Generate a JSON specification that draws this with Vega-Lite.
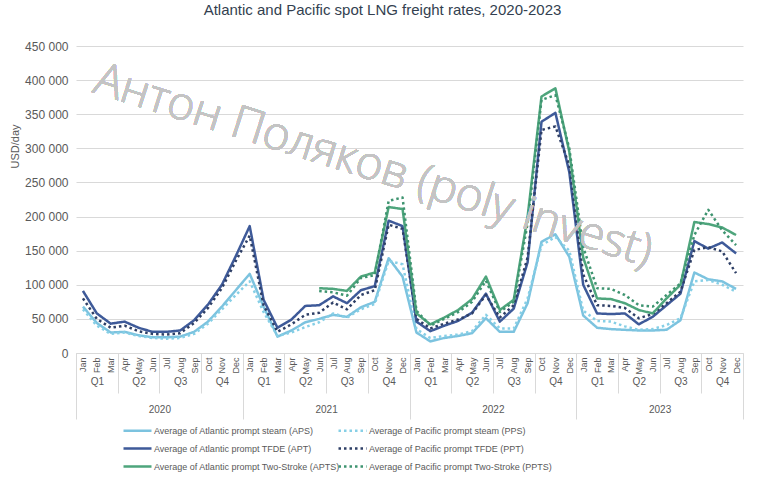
{
  "$schema": "https://vega.github.io/schema/vega-lite/v6.json",
  "autosize": "none",
  "width": 667,
  "height": 307,
  "padding": {"left": 76, "top": 46, "right": 15, "bottom": 124},
  "background": "white",
  "title": {
    "text": "Atlantic and Pacific spot LNG freight rates, 2020-2023",
    "fontSize": 15,
    "font": "Liberation Sans",
    "fontWeight": "normal",
    "color": "#333f50",
    "anchor": "middle",
    "dx": -27,
    "offset": 22
  },
  "config": {
    "view": {"stroke": null},
    "font": "Liberation Sans",
    "locale": {"number": {"decimal": ",", "thousands": " ", "grouping": [3], "currency": ["", ""]}},
    "axis": {"labelFont": "Liberation Sans", "labelColor": "#595959", "titleFont": "Liberation Sans"}
  },
  "data": {
    "values": [
      {"i": 0, "month": "2020-01", "APS": 68000, "PPS": 64000, "APT": 91000, "PPT": 80000, "APTS": null, "PPTS": null},
      {"i": 1, "month": "2020-02", "APS": 44000, "PPS": 40000, "APT": 58000, "PPT": 50000, "APTS": null, "PPTS": null},
      {"i": 2, "month": "2020-03", "APS": 30000, "PPS": 28000, "APT": 43000, "PPT": 37000, "APTS": null, "PPTS": null},
      {"i": 3, "month": "2020-04", "APS": 31000, "PPS": 30000, "APT": 46000, "PPT": 40000, "APTS": null, "PPTS": null},
      {"i": 4, "month": "2020-05", "APS": 26000, "PPS": 25000, "APT": 37000, "PPT": 32000, "APTS": null, "PPTS": null},
      {"i": 5, "month": "2020-06", "APS": 23000, "PPS": 22000, "APT": 31000, "PPT": 28000, "APTS": null, "PPTS": null},
      {"i": 6, "month": "2020-07", "APS": 23000, "PPS": 21000, "APT": 31000, "PPT": 27000, "APTS": null, "PPTS": null},
      {"i": 7, "month": "2020-08", "APS": 24000, "PPS": 22000, "APT": 33000, "PPT": 29000, "APTS": null, "PPTS": null},
      {"i": 8, "month": "2020-09", "APS": 31000, "PPS": 28000, "APT": 48000, "PPT": 44000, "APTS": null, "PPTS": null},
      {"i": 9, "month": "2020-10", "APS": 46000, "PPS": 43000, "APT": 71000, "PPT": 66000, "APTS": null, "PPTS": null},
      {"i": 10, "month": "2020-11", "APS": 68000, "PPS": 64000, "APT": 100000, "PPT": 95000, "APTS": null, "PPTS": null},
      {"i": 11, "month": "2020-12", "APS": 92000, "PPS": 85000, "APT": 142000, "PPT": 135000, "APTS": null, "PPTS": null},
      {"i": 12, "month": "2021-01", "APS": 116000, "PPS": 105000, "APT": 186000, "PPT": 172000, "APTS": null, "PPTS": null},
      {"i": 13, "month": "2021-02", "APS": 68000, "PPS": 60000, "APT": 78000, "PPT": 70000, "APTS": null, "PPTS": null},
      {"i": 14, "month": "2021-03", "APS": 24000, "PPS": 25000, "APT": 37000, "PPT": 31000, "APTS": null, "PPTS": null},
      {"i": 15, "month": "2021-04", "APS": 33000, "PPS": 30000, "APT": 49000, "PPT": 42000, "APTS": null, "PPTS": null},
      {"i": 16, "month": "2021-05", "APS": 45000, "PPS": 38000, "APT": 69000, "PPT": 56000, "APTS": null, "PPTS": null},
      {"i": 17, "month": "2021-06", "APS": 50000, "PPS": 45000, "APT": 70000, "PPT": 59000, "APTS": 95000, "PPTS": 91000},
      {"i": 18, "month": "2021-07", "APS": 56000, "PPS": 58000, "APT": 83000, "PPT": 74000, "APTS": 94000, "PPTS": 89000},
      {"i": 19, "month": "2021-08", "APS": 53000, "PPS": 52000, "APT": 73000, "PPT": 64000, "APTS": 91000, "PPTS": 84000},
      {"i": 20, "month": "2021-09", "APS": 67000, "PPS": 64000, "APT": 92000, "PPT": 85000, "APTS": 112000, "PPTS": 110000},
      {"i": 21, "month": "2021-10", "APS": 75000, "PPS": 72000, "APT": 98000, "PPT": 92000, "APTS": 118000, "PPTS": 114000},
      {"i": 22, "month": "2021-11", "APS": 139000, "PPS": 135000, "APT": 194000, "PPT": 188000, "APTS": 214000, "PPTS": 223000},
      {"i": 23, "month": "2021-12", "APS": 112000, "PPS": 130000, "APT": 186000, "PPT": 182000, "APTS": 211000, "PPTS": 228000},
      {"i": 24, "month": "2022-01", "APS": 30000, "PPS": 35000, "APT": 46000, "PPT": 50000, "APTS": 58000, "PPTS": 62000},
      {"i": 25, "month": "2022-02", "APS": 17000, "PPS": 22000, "APT": 32000, "PPT": 36000, "APTS": 42000, "PPTS": 40000},
      {"i": 26, "month": "2022-03", "APS": 22000, "PPS": 25000, "APT": 40000, "PPT": 43000, "APTS": 52000, "PPTS": 50000},
      {"i": 27, "month": "2022-04", "APS": 25000, "PPS": 27000, "APT": 47000, "PPT": 49000, "APTS": 63000, "PPTS": 60000},
      {"i": 28, "month": "2022-05", "APS": 29000, "PPS": 32000, "APT": 59000, "PPT": 58000, "APTS": 79000, "PPTS": 75000},
      {"i": 29, "month": "2022-06", "APS": 51000, "PPS": 56000, "APT": 87000, "PPT": 85000, "APTS": 112000, "PPTS": 106000},
      {"i": 30, "month": "2022-07", "APS": 31000, "PPS": 36000, "APT": 46000, "PPT": 52000, "APTS": 63000, "PPTS": 60000},
      {"i": 31, "month": "2022-08", "APS": 31000, "PPS": 36000, "APT": 65000, "PPT": 70000, "APTS": 78000, "PPTS": 75000},
      {"i": 32, "month": "2022-09", "APS": 73000, "PPS": 80000, "APT": 133000, "PPT": 140000, "APTS": 200000, "PPTS": 190000},
      {"i": 33, "month": "2022-10", "APS": 163000, "PPS": 158000, "APT": 339000, "PPT": 327000, "APTS": 376000, "PPTS": 371000},
      {"i": 34, "month": "2022-11", "APS": 174000, "PPS": 170000, "APT": 352000, "PPT": 332000, "APTS": 388000, "PPTS": 378000},
      {"i": 35, "month": "2022-12", "APS": 141000, "PPS": 150000, "APT": 265000, "PPT": 275000, "APTS": 295000, "PPTS": 300000},
      {"i": 36, "month": "2023-01", "APS": 55000, "PPS": 62000, "APT": 100000, "PPT": 115000, "APTS": 140000, "PPTS": 155000},
      {"i": 37, "month": "2023-02", "APS": 37000, "PPS": 47000, "APT": 58000, "PPT": 70000, "APTS": 80000, "PPTS": 95000},
      {"i": 38, "month": "2023-03", "APS": 35000, "PPS": 46000, "APT": 57000, "PPT": 69000, "APTS": 79000, "PPTS": 94000},
      {"i": 39, "month": "2023-04", "APS": 34000, "PPS": 39000, "APT": 58000, "PPT": 66000, "APTS": 73000, "PPTS": 85000},
      {"i": 40, "month": "2023-05", "APS": 33000, "PPS": 34000, "APT": 42000, "PPT": 51000, "APTS": 63000, "PPTS": 70000},
      {"i": 41, "month": "2023-06", "APS": 33000, "PPS": 35000, "APT": 53000, "PPT": 57000, "APTS": 58000, "PPTS": 68000},
      {"i": 42, "month": "2023-07", "APS": 34000, "PPS": 41000, "APT": 70000, "PPT": 73000, "APTS": 80000, "PPTS": 85000},
      {"i": 43, "month": "2023-08", "APS": 48000, "PPS": 51000, "APT": 87000, "PPT": 90000, "APTS": 100000, "PPTS": 102000},
      {"i": 44, "month": "2023-09", "APS": 118000, "PPS": 105000, "APT": 164000, "PPT": 151000, "APTS": 192000, "PPTS": 173000},
      {"i": 45, "month": "2023-10", "APS": 108000, "PPS": 107000, "APT": 153000, "PPT": 155000, "APTS": 189000, "PPTS": 210000},
      {"i": 46, "month": "2023-11", "APS": 105000, "PPS": 100000, "APT": 162000, "PPT": 149000, "APTS": 184000, "PPTS": 180000},
      {"i": 47, "month": "2023-12", "APS": 94000, "PPS": 90000, "APT": 146000, "PPT": 117000, "APTS": 173000, "PPTS": 158000}
    ]
  },
  "resolve": {"axis": {"x": "independent", "y": "independent"}},
  "layer": [
    {
      "transform": [
        {"fold": ["APS", "PPS", "APT", "PPT", "APTS", "PPTS"], "as": ["series", "value"]},
        {"filter": "datum.value != null"}
      ],
      "mark": {"type": "line", "strokeWidth": 2.5, "strokeJoin": "round"},
      "encoding": {
        "x": {
          "field": "i", "type": "quantitative",
          "scale": {"domain": [-0.5, 47.5], "nice": false, "zero": false},
          "axis": {
            "orient": "bottom",
            "values": [0,1,2,3,4,5,6,7,8,9,10,11,12,13,14,15,16,17,18,19,20,21,22,23,24,25,26,27,28,29,30,31,32,33,34,35,36,37,38,39,40,41,42,43,44,45,46,47],
            "labelExpr": "['Jan','Feb','Mar','Apr','May','Jun','Jul','Aug','Sep','Oct','Nov','Dec'][datum.value % 12]",
            "labelAngle": 270, "labelFontSize": 9, "labelPadding": 4,
            "labelOverlap": false, "labelFlush": false, "labelBound": false,
            "ticks": false, "grid": false, "domain": true, "domainColor": "#d9d9d9", "title": null
          }
        },
        "y": {
          "field": "value", "type": "quantitative",
          "scale": {"domain": [0, 450000], "nice": false},
          "axis": {
            "orient": "left",
            "values": [0, 50000, 100000, 150000, 200000, 250000, 300000, 350000, 400000, 450000],
            "format": ",d", "labelFontSize": 12, "labelPadding": 8,
            "grid": true, "gridColor": "#d9d9d9", "domain": false, "ticks": false,
            "title": "USD/day", "titleFontSize": 11, "titleFontWeight": "normal", "titleColor": "#595959",
            "titleX": -56, "titleY": 100, "titleAlign": "center"
          }
        },
        "color": {
          "field": "series", "type": "nominal",
          "scale": {"domain": ["APS", "APT", "APTS", "PPS", "PPT", "PPTS"], "range": ["#7cc3df", "#3e5a99", "#4ea57c", "#86cfe6", "#2e3f66", "#3e9470"]},
          "legend": {
            "orient": "none", "legendX": 53, "legendY": 376, "columns": 2, "columnPadding": -10, "rowPadding": 4,
            "title": null, "symbolType": "M-2,0H2", "symbolSize": 196, "symbolStrokeWidth": 2.5,
            "labelFontSize": 9, "labelColor": "#595959", "labelLimit": 0, "labelOffset": 8,
            "labelExpr": "datum.label == 'APS' ? 'Average of  Atlantic prompt steam (APS)' : datum.label == 'PPS' ? 'Average of  Pacific prompt steam (PPS)' : datum.label == 'APT' ? 'Average of  Atlantic prompt TFDE (APT)' : datum.label == 'PPT' ? 'Average of  Pacific prompt TFDE (PPT)' : datum.label == 'APTS' ? 'Average of  Atlantic prompt Two-Stroke (APTS)' : 'Average of  Pacific prompt Two-Stroke (PPTS)'"
          }
        },
        "strokeDash": {
          "field": "series", "type": "nominal",
          "scale": {"domain": ["APS", "APT", "APTS", "PPS", "PPT", "PPTS"], "range": [[1, 0], [1, 0], [1, 0], [2.5, 3], [2.5, 3], [2.5, 3]]},
          "legend": {
            "orient": "none", "legendX": 53, "legendY": 376, "columns": 2, "columnPadding": -10, "rowPadding": 4,
            "title": null, "symbolType": "M-2,0H2", "symbolSize": 196, "symbolStrokeWidth": 2.5,
            "labelFontSize": 9, "labelColor": "#595959", "labelLimit": 0, "labelOffset": 8,
            "labelExpr": "datum.label == 'APS' ? 'Average of  Atlantic prompt steam (APS)' : datum.label == 'PPS' ? 'Average of  Pacific prompt steam (PPS)' : datum.label == 'APT' ? 'Average of  Atlantic prompt TFDE (APT)' : datum.label == 'PPT' ? 'Average of  Pacific prompt TFDE (PPT)' : datum.label == 'APTS' ? 'Average of  Atlantic prompt Two-Stroke (APTS)' : 'Average of  Pacific prompt Two-Stroke (PPTS)'"
          }
        }
      }
    },
    {
      "mark": {"type": "text", "text": "Антон Поляков (poly invest)", "angle": 17.5, "fontSize": 46, "font": "Open Sans", "fontWeight": 300, "fill": "#c4c4c4", "stroke": null, "opacity": 0.42, "align": "center", "baseline": "middle"},
      "encoding": {
        "x": {"datum": 20.9, "type": "quantitative", "axis": null},
        "y": {"datum": 274000, "type": "quantitative", "axis": null}
      }
    },
    {
      "mark": {"type": "point", "opacity": 0},
      "encoding": {
        "x": {
          "field": "i", "type": "quantitative",
          "axis": {
            "orient": "bottom", "values": [1, 4, 7, 10, 13, 16, 19, 22, 25, 28, 31, 34, 37, 40, 43, 46],
            "labelExpr": "'Q' + (floor(datum.value / 3) % 4 + 1)",
            "labelAngle": 0, "labelFontSize": 10, "labelPadding": 23,
            "labelOverlap": false, "labelFlush": false, "labelBound": false,
            "ticks": false, "grid": false, "domain": false, "title": null
          }
        }
      }
    },
    {
      "mark": {"type": "point", "opacity": 0},
      "encoding": {
        "x": {
          "field": "i", "type": "quantitative",
          "axis": {
            "orient": "bottom", "values": [5.5, 17.5, 29.5, 41.5],
            "labelExpr": "'' + (2020 + floor(datum.value / 12))",
            "labelAngle": 0, "labelFontSize": 10, "labelPadding": 51,
            "labelOverlap": false, "labelFlush": false, "labelBound": false,
            "ticks": false, "grid": false, "domain": false, "title": null
          }
        }
      }
    },
    {
      "mark": {"type": "point", "opacity": 0},
      "encoding": {
        "x": {
          "field": "i", "type": "quantitative",
          "axis": {
            "orient": "bottom", "values": [-0.5, 2.5, 5.5, 8.5, 14.5, 17.5, 20.5, 26.5, 29.5, 32.5, 38.5, 41.5, 44.5],
            "labels": false, "ticks": true, "tickSize": 40, "tickColor": "#d9d9d9",
            "grid": false, "domain": false, "title": null
          }
        }
      }
    },
    {
      "mark": {"type": "point", "opacity": 0},
      "encoding": {
        "x": {
          "field": "i", "type": "quantitative",
          "axis": {
            "orient": "bottom", "values": [-0.5, 11.5, 23.5, 35.5, 47.5],
            "labels": false, "ticks": true, "tickSize": 66, "tickColor": "#d9d9d9",
            "grid": false, "domain": false, "title": null
          }
        }
      }
    }
  ]
}
